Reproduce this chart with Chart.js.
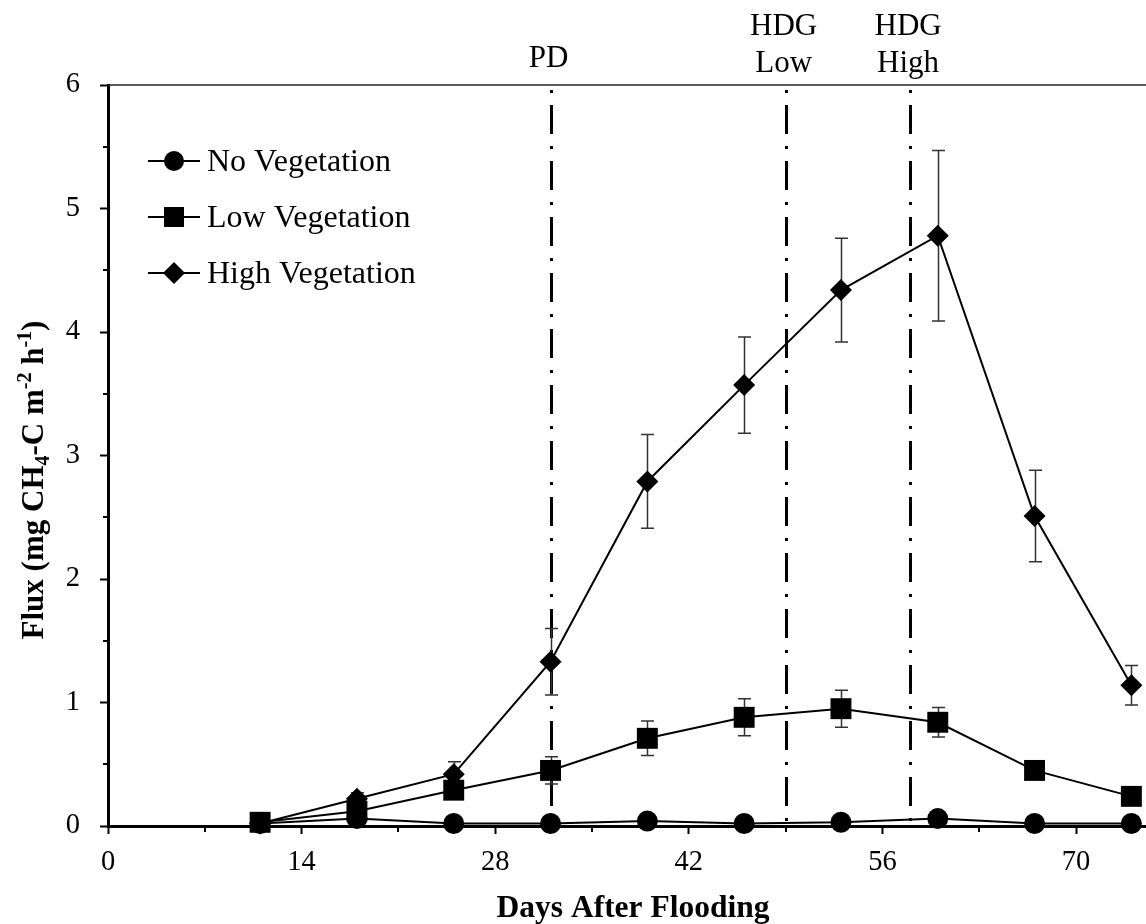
<!DOCTYPE html>
<html>
<head>
<meta charset="utf-8">
<script src="https://cdn.jsdelivr.net/npm/chart.js@4.4.1/dist/chart.umd.min.js"></script>
<style>
  html, body { margin: 0; padding: 0; background: #fff; overflow: hidden; }
  #wrap { width: 1146px; height: 924px; overflow: hidden; position: relative; }
  canvas { display: block; }
</style>
</head>
<body>
<div id="wrap"><canvas id="chart" width="1160" height="924"></canvas></div>
<script>
// Sampling days (days after flooding)
const days = [11, 18, 25, 32, 39, 46, 53, 60, 67, 74];

// Mean CH4-C flux (mg m-2 h-1) and standard errors per treatment
const noVeg      = [0.02, 0.06, 0.02, 0.02, 0.04, 0.02, 0.03, 0.06, 0.02, 0.02];
const noVegErr   = [0.01, 0.02, 0.01, 0.01, 0.02, 0.01, 0.01, 0.02, 0.01, 0.01];
const lowVeg     = [0.03, 0.12, 0.29, 0.45, 0.71, 0.88, 0.95, 0.84, 0.45, 0.24];
const lowVegErr  = [0.02, 0.04, 0.05, 0.11, 0.14, 0.15, 0.15, 0.12, 0.05, 0.04];
const highVeg    = [0.02, 0.22, 0.42, 1.33, 2.79, 3.57, 4.34, 4.78, 2.51, 1.14];
const highVegErr = [0.02, 0.05, 0.10, 0.27, 0.38, 0.39, 0.42, 0.69, 0.37, 0.16];

// Axis ticks
const xTicks = [0, 14, 28, 42, 56, 70];
const xMinorTicks = [7, 21, 35, 49, 63];
const yTicks = [0, 1, 2, 3, 4, 5, 6];
const yMinorTicks = [0.5, 1.5, 2.5, 3.5, 4.5, 5.5];

// Management events marked with dash-dot lines
const eventDays = [32, 49, 58];
const eventLabels = [['PD'], ['HDG', 'Low'], ['HDG', 'High']];

const seriesNames = ['No Vegetation', 'Low Vegetation', 'High Vegetation'];

const SERIF = "'Liberation Serif', 'Times New Roman', serif";

function toPoints(vals) {
  return days.map((d, i) => ({ x: d, y: vals[i] }));
}

function markerPath(ctx, style, x, y, size) {
  ctx.beginPath();
  if (style === 'circle') {
    ctx.arc(x, y, size, 0, Math.PI * 2);
  } else if (style === 'rect') {
    ctx.rect(x - size, y - size, size * 2, size * 2);
  } else {
    ctx.moveTo(x - size, y);
    ctx.lineTo(x, y - size);
    ctx.lineTo(x + size, y);
    ctx.lineTo(x, y + size);
    ctx.closePath();
  }
  ctx.fill();
}

const decorPlugin = {
  id: 'decor',
  beforeDatasetsDraw(chart) {
    const { ctx, chartArea: a, scales: { x, y } } = chart;
    ctx.save();

    // top frame line
    ctx.strokeStyle = '#222';
    ctx.lineWidth = 1.5;
    ctx.beginPath();
    ctx.moveTo(a.left, a.top);
    ctx.lineTo(a.right + 20, a.top);
    ctx.stroke();

    // minor ticks
    ctx.strokeStyle = '#000';
    ctx.lineWidth = 2;
    ctx.beginPath();
    xMinorTicks.forEach(v => {
      const px = Math.round(x.getPixelForValue(v));
      ctx.moveTo(px, a.bottom);
      ctx.lineTo(px, a.bottom + 6);
    });
    yMinorTicks.forEach(v => {
      const py = Math.round(y.getPixelForValue(v));
      ctx.moveTo(a.left, py);
      ctx.lineTo(a.left - 5, py);
    });
    ctx.stroke();

    // event lines (dash-dot)
    ctx.lineWidth = 3;
    ctx.setLineDash([29, 12, 3, 12]);
    ctx.lineDashOffset = 36;
    eventDays.forEach(d => {
      const px = Math.round(x.getPixelForValue(d)) + 0.5;
      ctx.beginPath();
      ctx.moveTo(px, a.top);
      ctx.lineTo(px, a.bottom);
      ctx.stroke();
    });
    ctx.setLineDash([]);

    // error bars
    const errs = [noVegErr, lowVegErr, highVegErr];
    ctx.strokeStyle = '#333';
    ctx.lineWidth = 1.5;
    chart.data.datasets.forEach((ds, i) => {
      ds.data.forEach((p, j) => {
        const e = errs[i][j];
        const px = Math.round(x.getPixelForValue(p.x)) + 0.5;
        const top = y.getPixelForValue(p.y + e);
        const bot = y.getPixelForValue(Math.max(p.y - e, 0));
        ctx.beginPath();
        ctx.moveTo(px, top);
        ctx.lineTo(px, bot);
        ctx.moveTo(px - 6.5, top);
        ctx.lineTo(px + 6.5, top);
        ctx.moveTo(px - 6.5, bot);
        ctx.lineTo(px + 6.5, bot);
        ctx.stroke();
      });
    });
    ctx.restore();
  },
  afterDraw(chart) {
    const { ctx, scales: { x } } = chart;
    ctx.save();
    ctx.fillStyle = '#000';

    // event labels above the plot
    ctx.font = `31px ${SERIF}`;
    ctx.textAlign = 'center';
    ctx.textBaseline = 'alphabetic';
    eventDays.forEach((d, i) => {
      const px = x.getPixelForValue(d) - 2;
      const lines = eventLabels[i];
      if (lines.length === 1) {
        ctx.fillText(lines[0], px, 67);
      } else {
        ctx.fillText(lines[0], px, 35);
        ctx.fillText(lines[1], px, 72);
      }
    });

    // legend
    const styles = ['circle', 'rect', 'diamond'];
    const sizes = [10, 10, 11];
    ctx.textAlign = 'left';
    chart.data.datasets.forEach((ds, i) => {
      const cy = 161 + i * 56;
      ctx.strokeStyle = '#000';
      ctx.lineWidth = 2;
      ctx.beginPath();
      ctx.moveTo(148, cy);
      ctx.lineTo(200, cy);
      ctx.stroke();
      markerPath(ctx, styles[i], 174, cy, sizes[i]);
      ctx.font = `32px ${SERIF}`;
      ctx.fillText(ds.label, 207, cy + 10);
    });

    // x-axis title
    ctx.font = `bold 31.5px ${SERIF}`;
    ctx.textAlign = 'center';
    ctx.fillText('Days After Flooding', 633, 917);

    // y-axis title with sub/superscripts
    const parts = [
      { t: 'Flux (mg CH', s: 31, dy: 0 },
      { t: '4', s: 20, dy: 6 },
      { t: '-C m', s: 31, dy: 0 },
      { t: '-2', s: 20, dy: -12 },
      { t: ' h', s: 31, dy: 0 },
      { t: '-1', s: 20, dy: -12 },
      { t: ')', s: 31, dy: 0 }
    ];
    ctx.translate(43, 480);
    ctx.rotate(-Math.PI / 2);
    ctx.textAlign = 'left';
    let total = 0;
    parts.forEach(p => {
      ctx.font = `bold ${p.s}px ${SERIF}`;
      p.w = ctx.measureText(p.t).width;
      total += p.w;
    });
    let cx = -total / 2;
    parts.forEach(p => {
      ctx.font = `bold ${p.s}px ${SERIF}`;
      ctx.fillText(p.t, cx, p.dy);
      cx += p.w;
    });
    ctx.restore();
  }
};

const common = {
  borderColor: '#000',
  backgroundColor: '#000',
  borderWidth: 2,
  tension: 0,
  pointBackgroundColor: '#000',
  pointBorderWidth: 0,
  pointHoverRadius: 10,
  clip: false
};

new Chart(document.getElementById('chart'), {
  type: 'line',
  data: {
    datasets: [
      Object.assign({ label: seriesNames[0], data: toPoints(noVeg), pointStyle: 'circle', pointRadius: 10.5 }, common),
      Object.assign({ label: seriesNames[1], data: toPoints(lowVeg), pointStyle: 'rect', pointRadius: 14.8 }, common),
      Object.assign({ label: seriesNames[2], data: toPoints(highVeg), pointStyle: 'rectRot', pointRadius: 11 }, common)
    ]
  },
  options: {
    responsive: false,
    devicePixelRatio: 1,
    animation: false,
    layout: { padding: { top: 85, right: 0, bottom: 0, left: 0 } },
    plugins: {
      legend: { display: false },
      tooltip: { enabled: false }
    },
    scales: {
      x: {
        type: 'linear',
        position: 'bottom',
        min: 0,
        max: 75,
        afterFit: s => { s.height = 98; },
        afterBuildTicks: s => { s.ticks = xTicks.map(v => ({ value: v })); },
        ticks: {
          color: '#000',
          font: { family: SERIF, size: 28.5, lineHeight: 1.2 },
          padding: 11,
          maxRotation: 0,
          autoSkip: false
        },
        grid: { drawOnChartArea: false, drawTicks: true, tickLength: 8, tickWidth: 2, tickColor: '#000' },
        border: { display: true, color: '#000', width: 3 }
      },
      y: {
        type: 'linear',
        min: 0,
        max: 6,
        afterFit: s => { s.width = 108; },
        afterBuildTicks: s => { s.ticks = yTicks.map(v => ({ value: v })); },
        ticks: {
          color: '#000',
          font: { family: SERIF, size: 28.5, lineHeight: 1.2 },
          padding: 20
        },
        grid: { drawOnChartArea: false, drawTicks: true, tickLength: 8, tickWidth: 2, tickColor: '#000' },
        border: { display: true, color: '#000', width: 3 }
      }
    }
  },
  plugins: [decorPlugin]
});
</script>
</body>
</html>
